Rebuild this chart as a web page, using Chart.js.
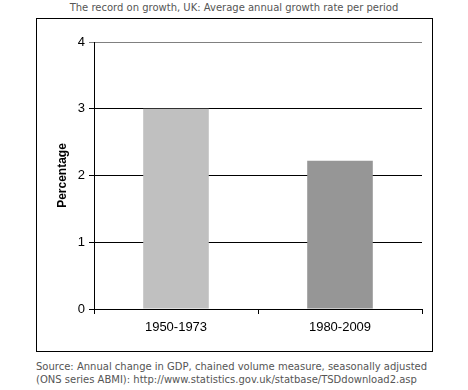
<!DOCTYPE html>
<html>
<head>
<meta charset="utf-8">
<script src="https://cdn.jsdelivr.net/npm/chart.js@4/dist/chart.umd.min.js"></script>
<style>
  body { margin: 0; background: #fff; width: 468px; height: 390px; position: relative; font-family: "DejaVu Sans", Verdana, sans-serif; }
  .title { position: absolute; top: 2px; left: 0; width: 468px; text-align: center; font-size: 10px; color: #555; }
  .box { position: absolute; left: 36px; top: 18px; width: 395px; height: 332px; border: 1px solid #000; }
  .source { position: absolute; left: 36px; top: 360px; font-size: 10px; line-height: 13px; color: #555; }
</style>
</head>
<body>
<div class="title">The record on growth, UK: Average annual growth rate per period</div>
<div class="box"><canvas id="chart" width="395" height="332"></canvas></div>
<div class="source">Source: Annual change in GDP, chained volume measure, seasonally adjusted<br>(ONS series ABMI): http://www.statistics.gov.uk/statbase/TSDdownload2.asp</div>
<script>
const periods = ['1950-1973', '1980-2009'];
const growthRates = [3.0, 2.22];
const barColours = ['#c0c0c0', '#969696'];

const ctx = document.getElementById('chart').getContext('2d');
new Chart(ctx, {
    type: 'bar',
    data: {
        labels: periods,
        datasets: [{
            data: growthRates,
            backgroundColor: barColours,
            barPercentage: 0.4,
            categoryPercentage: 1.0,
        }],
    },
    options: {
        responsive: false,
        animation: false,
        layout: { padding: { top: 23, right: 10, left: 18, bottom: 0 } },
        plugins: {
            legend: { display: false },
            tooltip: { enabled: false },
        },
        scales: {
            x: {
                offset: true,
                grid: { offset: true, drawOnChartArea: false, color: '#000', tickLength: 5 },
                border: { color: '#000', width: 1 },
                ticks: { color: '#000', font: { family: 'Liberation Sans', size: 13 }, padding: 6 },
                afterFit: (scale) => { scale.height = 42; },
            },
            y: {
                min: 0,
                max: 4,
                ticks: { stepSize: 1, color: '#000', font: { family: 'Liberation Sans', size: 13 }, padding: 4 },
                grid: {
                    color: (c) => c.tick && c.tick.value === 4 ? '#808080' : '#000',
                    tickLength: 5,
                },
                border: { color: '#000', width: 1 },
                title: {
                    display: true,
                    text: 'Percentage',
                    color: '#000',
                    font: { family: 'Liberation Sans', size: 12, weight: 'bold' },
                    padding: { top: 0, bottom: 0 },
                },
                afterFit: (scale) => { scale.width = 39; },
            },
        },
    },
});
</script>
</body>
</html>
